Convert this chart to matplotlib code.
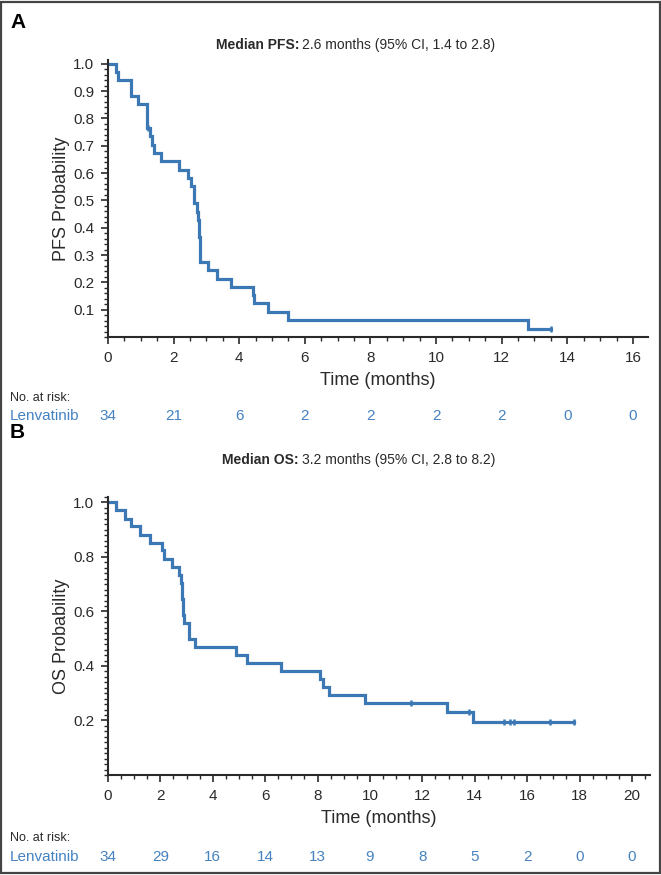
import numpy as np
import matplotlib
matplotlib.use("Agg")
import matplotlib.pyplot as plt
from matplotlib.ticker import MultipleLocator
import matplotlib.transforms as mtransforms

plt.rcParams['font.family'] = ['Liberation Sans Narrow', 'Liberation Sans', 'DejaVu Sans']

# PFS curve (event times in months and survival after each step)
pfs_times = [0, 0.24, 0.31, 0.69, 0.90, 1.20, 1.28, 1.33, 1.39, 1.62, 2.15, 2.43, 2.52, 2.62,
             2.70, 2.73, 2.78, 2.80, 3.06, 3.33, 3.76, 4.41, 4.45, 4.87, 5.49, 12.8, 13.5]
pfs_surv = [1.0, 0.971, 0.941, 0.882, 0.853, 0.765, 0.734, 0.704, 0.673, 0.643, 0.612, 0.582, 0.551, 0.490,
            0.459, 0.429, 0.367, 0.276, 0.245, 0.214, 0.184, 0.153, 0.123, 0.092, 0.061, 0.031, 0.031]
pfs_cens_t = [1.22, 13.5]
pfs_cens_s = [0.765, 0.031]
pfs_risk_t = [0, 2, 4, 6, 8, 10, 12, 14, 16]
pfs_risk = [34, 21, 6, 2, 2, 2, 2, 0, 0]

# OS curve
os_times = [0, 0.31, 0.65, 0.88, 1.22, 1.60, 2.08, 2.15, 2.46, 2.72, 2.80, 2.82, 2.83, 2.85, 2.88, 2.92,
            3.10, 3.32, 4.88, 5.30, 6.60, 8.10, 8.19, 8.43, 9.82, 12.93, 13.93, 17.8]
os_surv = [1.0, 0.971, 0.941, 0.912, 0.882, 0.853, 0.824, 0.794, 0.765, 0.735, 0.706, 0.676, 0.647, 0.618,
           0.588, 0.559, 0.500, 0.471, 0.441, 0.412, 0.382, 0.353, 0.324, 0.294, 0.265, 0.232, 0.193, 0.193]
os_cens_t = [11.57, 13.78, 15.13, 15.34, 15.50, 16.87, 17.8]
os_cens_s = [0.265, 0.232, 0.193, 0.193, 0.193, 0.193, 0.193]
os_risk_t = [0, 2, 4, 6, 8, 10, 12, 14, 16, 18, 20]
os_risk = [34, 29, 16, 14, 13, 9, 8, 5, 2, 0, 0]

blue = '#3b78b4'
risk_blue = '#4582c0'
dark = '#2a2a2a'

W, H = 661, 875
fig = plt.figure(figsize=(W / 100, H / 100), dpi=100)

# border around whole figure
fig.patches.append(plt.Rectangle((0.002, 0.002), 0.996, 0.996, transform=fig.transFigure,
                                 fill=False, edgecolor='#444444', linewidth=1.6))


def px_box(left, top, right, bottom):
    return [left / W, 1 - bottom / H, (right - left) / W, (bottom - top) / H]


def km_panel(rect, times, surv, cens_t, cens_s, xmax, ylim_top, ymajor, ylabel, risk_t, risk,
             letter, letter_y, bold_txt, rest_txt, title_y, risk_head_y, risk_y):
    ax = fig.add_axes(rect)
    ax.step(times, surv, where='post', color=blue, linewidth=2.3, solid_joinstyle='miter')
    ax.plot(cens_t, cens_s, linestyle='none', marker='|', markersize=5, markeredgewidth=1.8, color=blue)

    ax.set_xlim(0, xmax)
    ax.set_ylim(0, ylim_top)
    ax.xaxis.set_major_locator(MultipleLocator(2))
    ax.xaxis.set_minor_locator(MultipleLocator(0.5))
    ax.yaxis.set_minor_locator(MultipleLocator(0.02))
    yt = np.arange(ymajor, 1.0001, ymajor)
    ax.set_yticks(yt)
    ax.set_yticklabels(['%.1f' % v for v in yt])

    for s in ['top', 'right']:
        ax.spines[s].set_visible(False)
    for s in ['left', 'bottom']:
        ax.spines[s].set_linewidth(1.5)
        ax.spines[s].set_color(dark)
    ax.tick_params(which='major', length=5, width=1.2, color=dark, labelsize=11, labelcolor=dark, pad=5)
    ax.tick_params(which='minor', length=3, width=1.0, color=dark)
    ax.set_xlabel('Time (months)', fontsize=13, color=dark, labelpad=5)
    ax.set_ylabel(ylabel, fontsize=13, color=dark, labelpad=2)

    # panel letter and title
    fig.text(10 / W, 1 - letter_y / H, letter, fontsize=15, fontweight='bold', color='black',
             family=['Liberation Sans', 'DejaVu Sans'], va='center')
    fig.text(299 / W, 1 - title_y / H, bold_txt, fontsize=10, fontweight='bold', color=dark,
             ha='right', va='center')
    fig.text(302 / W, 1 - title_y / H, rest_txt, fontsize=10, color=dark, ha='left', va='center')

    # number at risk table
    fig.text(10 / W, 1 - risk_head_y / H, 'No. at risk:', fontsize=9, color=dark, va='center')
    fig.text(10 / W, 1 - risk_y / H, 'Lenvatinib', fontsize=11, color=risk_blue, va='center')
    trans = mtransforms.blended_transform_factory(ax.transData, fig.transFigure)
    for t, n in zip(risk_t, risk):
        ax.text(t, 1 - risk_y / H, str(n), transform=trans, fontsize=11, color=risk_blue,
                ha='center', va='center', clip_on=False)
    return ax


km_panel(px_box(108, 60, 648, 337), pfs_times, pfs_surv, pfs_cens_t, pfs_cens_s,
         16.46, 1.0135, 0.1, 'PFS Probability', pfs_risk_t, pfs_risk,
         'A', 22, 'Median PFS:', '2.6 months (95% CI, 1.4 to 2.8)', 45, 398, 416)

km_panel(px_box(108, 497, 650, 775), os_times, os_surv, os_cens_t, os_cens_s,
         20.69, 1.02, 0.2, 'OS Probability', os_risk_t, os_risk,
         'B', 433, 'Median OS:', '3.2 months (95% CI, 2.8 to 8.2)', 460, 838, 857)

fig.savefig('out.png', dpi=100)
